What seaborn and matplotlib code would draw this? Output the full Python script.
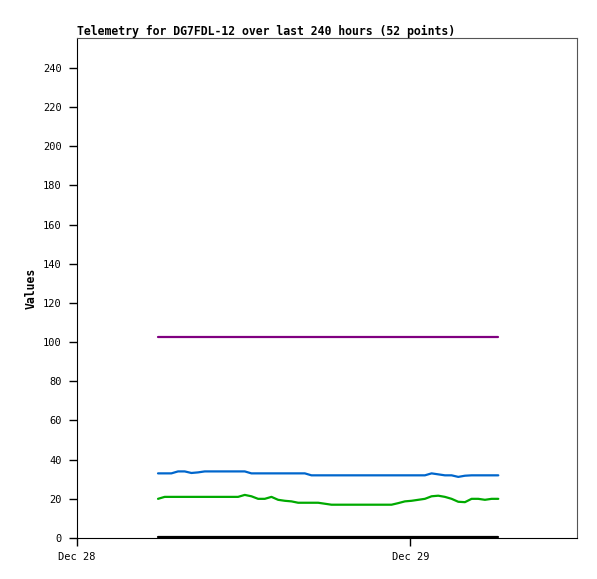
import pandas as pd
import matplotlib.pyplot as plt
import matplotlib.dates as mdates
import seaborn as sns

# telemetry channels, 52 samples each
t_start = "2023-12-28 05:50"
t_end = "2023-12-29 06:20"
purple_vals = [102.5] * 52
blue_vals = [33, 33, 33, 34, 34, 33.2, 33.5, 34, 34, 34, 34, 34, 34, 34,
             33, 33, 33, 33, 33, 33, 33, 33, 33, 32, 32, 32, 32, 32, 32, 32,
             32, 32, 32, 32, 32, 32, 32, 32, 32, 32, 32, 33, 32.5, 32, 32,
             31.2, 31.8, 32, 32, 32, 32, 32]
green_vals = [20, 21, 21, 21, 21, 21, 21, 21, 21, 21, 21, 21, 21, 22, 21.3,
              20, 20, 21, 19.5, 19, 18.7, 18, 18, 18, 18, 17.5, 17, 17, 17,
              17, 17, 17, 17, 17, 17, 17, 17.8, 18.7, 19, 19.5, 20, 21.3,
              21.6, 21, 20, 18.5, 18.3, 20, 20, 19.5, 20, 20]
black_vals = [0.3] * 52
y_ticks = list(range(0, 241, 20))

times = pd.date_range(t_start, t_end, periods=52)
df = pd.concat([
    pd.DataFrame({"time": times, "value": v, "ch": name})
    for name, v in [("c1", purple_vals), ("c2", blue_vals),
                    ("c3", green_vals), ("c4", black_vals)]
])

sns.set_style("white")
plt.rcParams["font.family"] = ["DejaVu Sans Mono"]
plt.rcParams["text.color"] = "black"
plt.rcParams["axes.labelcolor"] = "black"

fig = plt.figure(figsize=(5.97, 5.79), dpi=100)
ax = fig.add_axes([77 / 597, 41 / 579, 500 / 597, 500 / 579])
sns.lineplot(data=df, x="time", y="value", hue="ch",
             palette={"c1": "#800080", "c2": "#0066cc", "c3": "#00aa00", "c4": "#000000"},
             linewidth=1.6, legend=False, ax=ax)

ax.set_xlim(pd.Timestamp("2023-12-28 00:00"), pd.Timestamp("2023-12-29 12:00"))
ax.set_ylim(0, 255.3)
ax.set_yticks(y_ticks)
ax.set_xticks([pd.Timestamp("2023-12-28"), pd.Timestamp("2023-12-29")])
ax.xaxis.set_major_formatter(mdates.DateFormatter("%b %d"))
ax.tick_params(axis="both", direction="out", length=6, width=1, labelsize=7.5,
               colors="black", bottom=True, left=True)
ax.tick_params(axis="y", pad=5)
ax.tick_params(axis="x", pad=4)

for side in ["left", "bottom"]:
    ax.spines[side].set_color("black")
for side in ["top", "right"]:
    ax.spines[side].set_color("#555555")

ax.set_xlabel("")
ax.set_ylabel("Values", fontsize=8.3, fontweight="bold", labelpad=4, color="black")
ax.set_title("Telemetry for DG7FDL-12 over last 240 hours (52 points)",
             loc="left", fontsize=8.3, fontweight="bold", pad=2, color="black")

fig.savefig("out.png", dpi=100)
